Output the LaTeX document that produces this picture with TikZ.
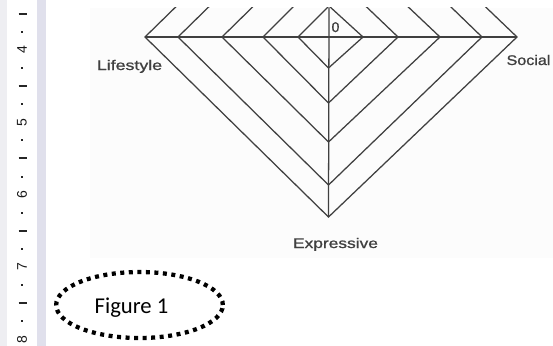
\documentclass[tikz,border=0pt]{standalone}
\usepackage{fontspec}
\usetikzlibrary{shapes.geometric}
\setmainfont{Liberation Sans}
\newfontfamily\calib{Carlito}
\newfontfamily\scanfont[FakeBold=0.9]{Liberation Sans}
\definecolor{rulerbar}{RGB}{224,224,236}
\definecolor{ruleredge}{RGB}{238,238,242}
\definecolor{figbg}{RGB}{252,252,252}
\begin{document}
\begin{tikzpicture}[x=0.75pt,y=-0.75pt,
  diag/.style={draw=black!75, line width=0.95pt},
  lbl/.style={inner sep=0pt, anchor=base, text=black!75, font=\scanfont\fontsize{10.5}{12}\selectfont},
  rnum/.style={rotate=90, inner sep=0pt, text=black!90, font=\fontsize{10.5}{12}\selectfont},
  rdot/.style={fill=black!85},
  rdash/.style={draw=black!85, line width=1.5pt},
  figring/.style={draw=black, line width=3.2pt, dash pattern=on 3pt off 3.4pt, ellipse},
  figtext/.style={inner sep=0pt, anchor=base, font=\calib\fontsize{17}{20}\selectfont}
  ]
\useasboundingbox (0,0) rectangle (553,346);
\fill[white] (0,0) rectangle (553,346);
% ruler
\fill[ruleredge] (0,0) rectangle (7,346);
\fill[rulerbar] (37,0) rectangle (46,346);
\foreach \n [count=\k from 0] in {4,5,6,7,8}{
  \pgfmathsetmacro{\yy}{50+72.3*\k}
  \node[rnum] (num\n) at (22,\yy) {\n};
}
\foreach \yy [count=\k] in {32,68,104,140,177,213,249,285,321}{
  \fill[rdot] (21,\yy-1.2) rectangle (23.4,\yy+1.2);
}
\foreach \yy [count=\k] in {14,86,158,231,303}{
  \coordinate (dl\k) at (18.5,\yy);
  \coordinate (dr\k) at (26.5,\yy);
  \draw[rdash] (dl\k) -- (dr\k);
}
% figure background
\fill[figbg] (90,8) rectangle (553,258);
\begin{scope}
\clip (90,8) rectangle (553,258);
\coordinate (top) at (329,8);
\coordinate (bot) at (328.5,217);
\foreach \L/\R/\B [count=\i] in {298/363/68, 263/398/103, 222/440/142, 178/482/185, 145/517/217}{
  \pgfmathsetmacro{\T}{74-\B}
  \coordinate (l\i) at (\L,37);
  \coordinate (r\i) at (\R,37);
  \coordinate (b\i) at (328.5,\B);
  \coordinate (t\i) at (329,\T);
  \draw[diag] (t\i) -- (l\i) -- (b\i) -- (r\i) -- cycle;
}
\draw[diag] (l5) -- (r5);
\draw[diag] (top) -- (bot);
\end{scope}
% labels
\node[lbl] (zero) at (335.5,32) {0};
\node[lbl] (life) at (129.5,70) {\scalebox{1.27}[1]{Lifestyle}};
\node[lbl] (soc) at (528.5,65) {\scalebox{1.15}[1]{Social}};
\node[lbl] (expr) at (335.5,248) {\scalebox{1.24}[1]{Expressive}};
% figure caption
\node[figring, minimum width=125pt, minimum height=49.5pt, inner sep=0pt] (ring) at (139.5,305) {};
\node[figtext] (fig) at (131.5,313) {Figure 1};
\end{tikzpicture}
\end{document}
